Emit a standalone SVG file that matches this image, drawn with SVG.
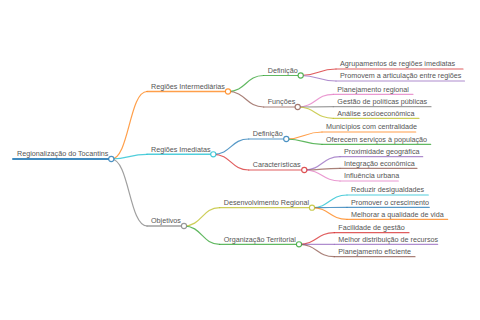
<svg xmlns="http://www.w3.org/2000/svg" width="480" height="320" viewBox="0 0 480 320">
<style>
text{font-family:"Liberation Sans",Arial,sans-serif;font-size:7.2px;fill:#555}
path,line{fill:none;stroke-width:1.2;stroke-linecap:round;stroke-opacity:0.75}
circle{fill:#fff;stroke-width:1.1;stroke-opacity:0.8}
.c0{stroke:#1f77b4}.c1{stroke:#ff7f0e}.c2{stroke:#2ca02c}.c3{stroke:#d62728}.c4{stroke:#9467bd}
.c5{stroke:#8c564b}.c6{stroke:#e377c2}.c7{stroke:#7f7f7f}.c8{stroke:#bcbd22}.c9{stroke:#17becf}
</style>
<rect width="480" height="320" fill="#fff"/>
<g id="connectors">
<path class="c1" d="M111.3,159 C129.2,159 129.2,91.5 147,91.5"/>
<path class="c9" d="M111.3,159 C129.2,159 129.2,154.3 147,154.3"/>
<path class="c7" d="M111.3,159 C129.2,159 129.2,226 147,226"/>
<path class="c2" d="M228,91.5 C245.9,91.5 245.9,75.5 263.7,75.5"/>
<path class="c5" d="M228,91.5 C245.9,91.5 245.9,107 263.7,107"/>
<path class="c0" d="M213.3,154.3 C231,154.3 231,139 248.7,139"/>
<path class="c3" d="M213.3,154.3 C231,154.3 231,170 248.7,170"/>
<path class="c8" d="M184,226 C201.9,226 201.9,207.7 219.7,207.7"/>
<path class="c2" d="M184,226 C201.9,226 201.9,244.3 219.7,244.3"/>
<path class="c3" d="M300.7,75.5 C318.4,75.5 318.4,69 336,69"/>
<path class="c4" d="M300.7,75.5 C318.4,75.5 318.4,81 336,81"/>
<path class="c6" d="M297.7,107 C315.5,107 315.5,94.3 333.3,94.3"/>
<path class="c7" d="M297.7,107 C315.5,107 315.5,106.7 333.3,106.7"/>
<path class="c8" d="M297.7,107 C315.5,107 315.5,118.3 333.3,118.3"/>
<path class="c1" d="M286.3,139 C304.2,139 304.2,132 322,132"/>
<path class="c2" d="M286.3,139 C304.2,139 304.2,144.3 322,144.3"/>
<path class="c4" d="M304.3,170 C322.2,170 322.2,156.7 340,156.7"/>
<path class="c5" d="M304.3,170 C322.2,170 322.2,168.3 340,168.3"/>
<path class="c6" d="M304.3,170 C322.2,170 322.2,181 340,181"/>
<path class="c9" d="M312,207.7 C329.5,207.7 329.5,195 347,195"/>
<path class="c0" d="M312,207.7 C329.5,207.7 329.5,207.3 347,207.3"/>
<path class="c1" d="M312,207.7 C329.5,207.7 329.5,219.3 347,219.3"/>
<path class="c3" d="M299,244.3 C316.7,244.3 316.7,232.7 334.3,232.7"/>
<path class="c4" d="M299,244.3 C316.7,244.3 316.7,244.3 334.3,244.3"/>
<path class="c5" d="M299,244.3 C316.7,244.3 316.7,256.7 334.3,256.7"/>
</g>
<g id="root"><line class="c0" x1="13" y1="159" x2="111.3" y2="159" style="stroke-width:2;stroke-opacity:0.85"/><circle class="c0" cx="111.3" cy="159" r="2.6"/><text x="17" y="156">Regionalização do Tocantins</text></g>
<g id="n-intermediarias"><line class="c1" x1="147" y1="91.5" x2="228" y2="91.5" style="stroke-width:1.5"/><circle class="c1" cx="228" cy="91.5" r="2.6"/><text x="151" y="88.7">Regiões Intermediárias</text></g>
<g id="n-imediatas"><line class="c9" x1="147" y1="154.3" x2="213.3" y2="154.3" style="stroke-width:1.5"/><circle class="c9" cx="213.3" cy="154.3" r="2.6"/><text x="151" y="151.5">Regiões Imediatas</text></g>
<g id="n-objetivos"><line class="c7" x1="147" y1="226" x2="184" y2="226" style="stroke-width:1.5"/><circle class="c7" cx="184" cy="226" r="2.6"/><text x="151" y="223.2">Objetivos</text></g>
<g id="n-def1"><line class="c2" x1="263.7" y1="75.5" x2="300.7" y2="75.5"/><circle class="c2" cx="300.7" cy="75.5" r="2.6"/><text x="267.7" y="72.7">Definição</text></g>
<g id="n-funcoes"><line class="c5" x1="263.7" y1="107" x2="297.7" y2="107"/><circle class="c5" cx="297.7" cy="107" r="2.6"/><text x="267.7" y="104.2">Funções</text></g>
<g id="n-def2"><line class="c0" x1="248.7" y1="139" x2="286.3" y2="139"/><circle class="c0" cx="286.3" cy="139" r="2.6"/><text x="252.7" y="136.2">Definição</text></g>
<g id="n-caract"><line class="c3" x1="248.7" y1="170" x2="304.3" y2="170"/><circle class="c3" cx="304.3" cy="170" r="2.6"/><text x="252.7" y="167.2">Características</text></g>
<g id="n-desenv"><line class="c8" x1="219.7" y1="207.7" x2="312" y2="207.7"/><circle class="c8" cx="312" cy="207.7" r="2.6"/><text x="223.7" y="204.9">Desenvolvimento Regional</text></g>
<g id="n-organiz"><line class="c2" x1="219.7" y1="244.3" x2="299" y2="244.3"/><circle class="c2" cx="299" cy="244.3" r="2.6"/><text x="223.7" y="241.5">Organização Territorial</text></g>
<g id="l1"><line class="c3" x1="336" y1="69" x2="463" y2="69"/><text x="340" y="66.2">Agrupamentos de regiões imediatas</text></g>
<g id="l2"><line class="c4" x1="336" y1="81" x2="464.5" y2="81"/><text x="340" y="78.2">Promovem a articulação entre regiões</text></g>
<g id="l3"><line class="c6" x1="333.3" y1="94.3" x2="413" y2="94.3"/><text x="337.3" y="91.5">Planejamento regional</text></g>
<g id="l4"><line class="c7" x1="333.3" y1="106.7" x2="431" y2="106.7"/><text x="337.3" y="103.9">Gestão de políticas públicas</text></g>
<g id="l5"><line class="c8" x1="333.3" y1="118.3" x2="419" y2="118.3"/><text x="337.3" y="115.5">Análise socioeconômica</text></g>
<g id="l6"><line class="c1" x1="322" y1="132" x2="415.7" y2="132"/><text x="326" y="129.2">Municípios com centralidade</text></g>
<g id="l7"><line class="c2" x1="322" y1="144.3" x2="430.7" y2="144.3"/><text x="326" y="141.5">Oferecem serviços à população</text></g>
<g id="l8"><line class="c4" x1="340" y1="156.7" x2="422.7" y2="156.7"/><text x="344" y="153.9">Proximidade geográfica</text></g>
<g id="l9"><line class="c5" x1="340" y1="168.3" x2="417" y2="168.3"/><text x="344" y="165.5">Integração econômica</text></g>
<g id="l10"><line class="c6" x1="340" y1="181" x2="398.3" y2="181"/><text x="344" y="178.2">Influência urbana</text></g>
<g id="l11"><line class="c9" x1="347" y1="195" x2="428.3" y2="195"/><text x="351" y="192.2">Reduzir desigualdades</text></g>
<g id="l12"><line class="c0" x1="347" y1="207.3" x2="429.3" y2="207.3"/><text x="351" y="204.5">Promover o crescimento</text></g>
<g id="l13"><line class="c1" x1="347" y1="219.3" x2="447.7" y2="219.3"/><text x="351" y="216.5">Melhorar a qualidade de vida</text></g>
<g id="l14"><line class="c3" x1="334.3" y1="232.7" x2="409" y2="232.7"/><text x="338.3" y="229.9">Facilidade de gestão</text></g>
<g id="l15"><line class="c4" x1="334.3" y1="244.3" x2="437.7" y2="244.3"/><text x="338.3" y="241.5">Melhor distribuição de recursos</text></g>
<g id="l16"><line class="c5" x1="334.3" y1="256.7" x2="415" y2="256.7"/><text x="338.3" y="253.9">Planejamento eficiente</text></g>
</svg>
